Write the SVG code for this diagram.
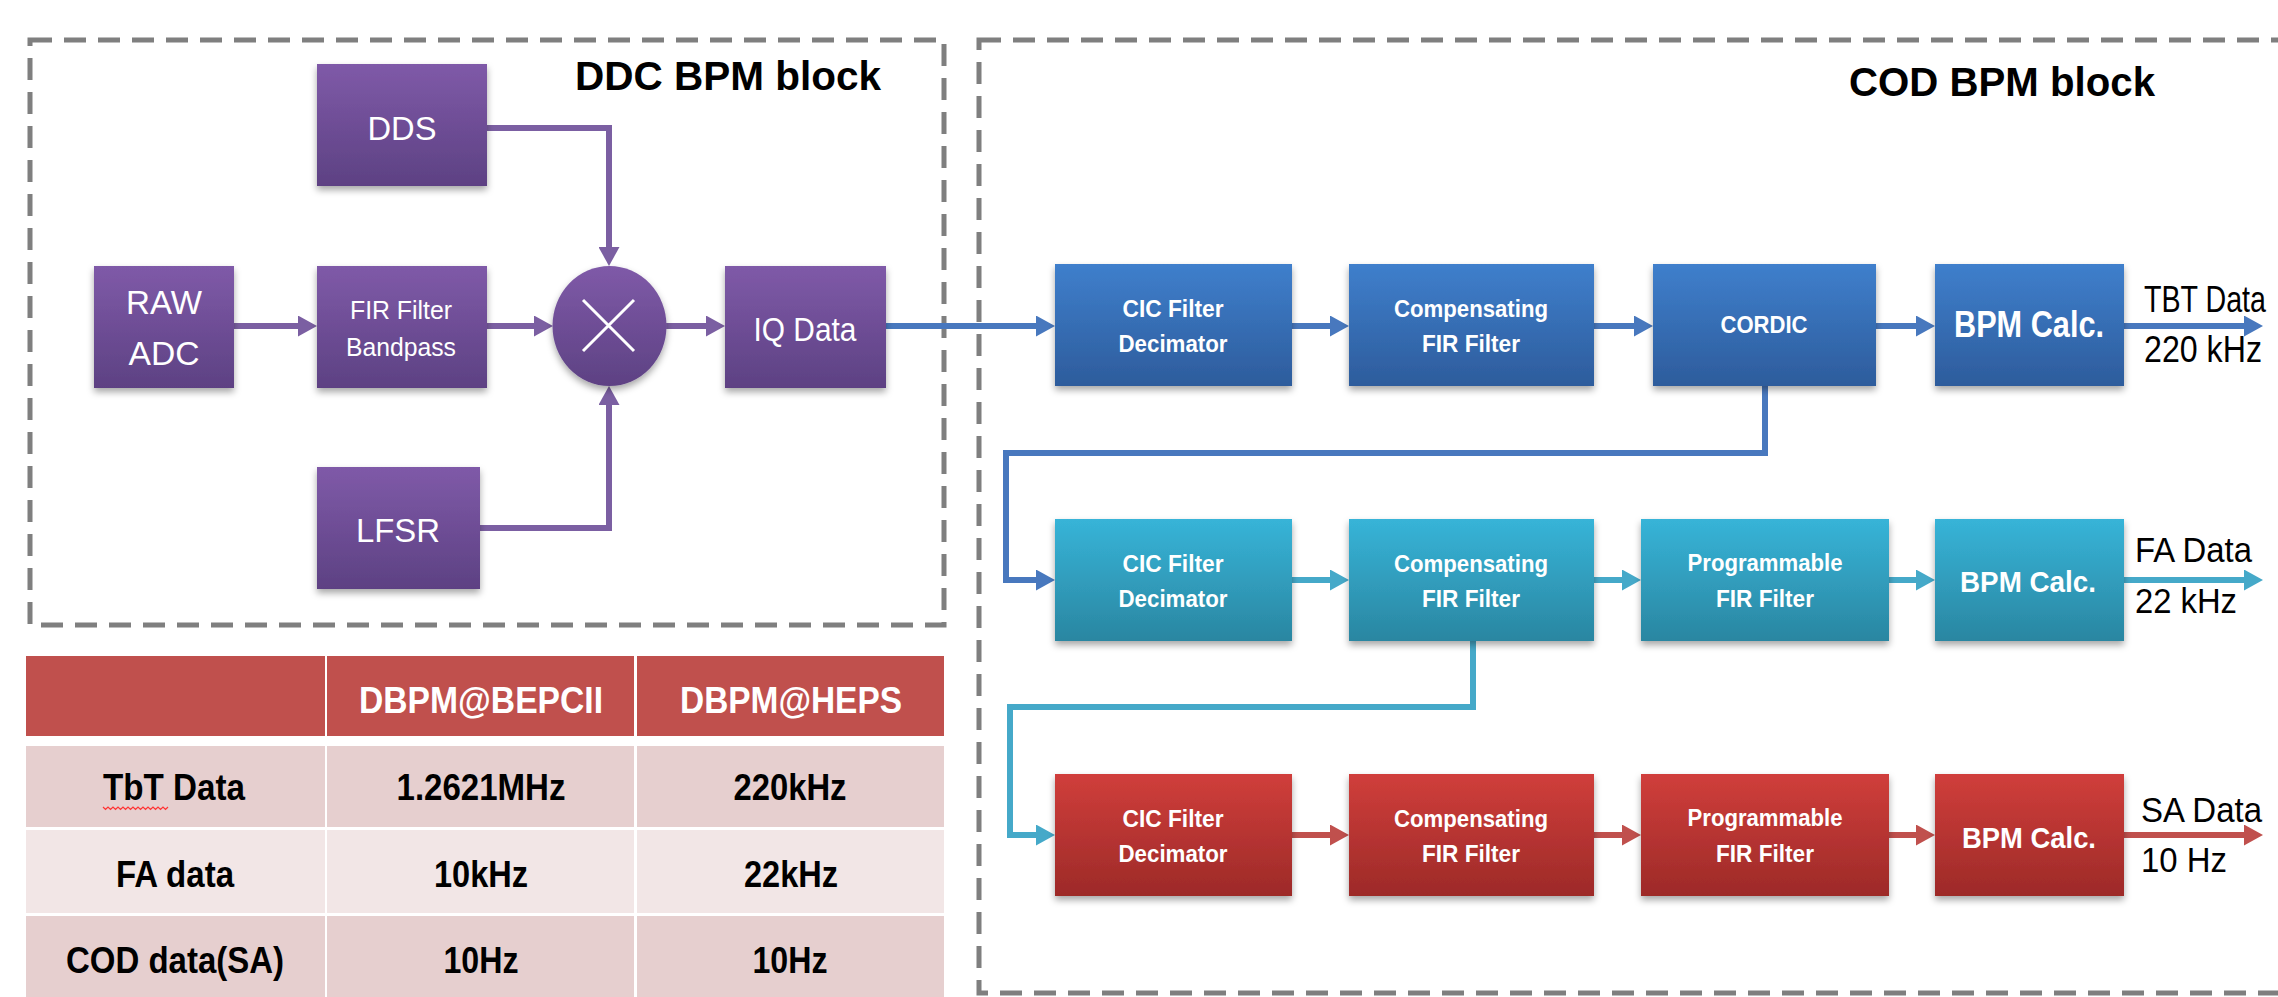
<svg xmlns="http://www.w3.org/2000/svg" width="2278" height="997" viewBox="0 0 2278 997">
<style>
.dash{fill:none;stroke:#7f7f7f;stroke-width:5;stroke-dasharray:22 12}
.t{font-family:"Liberation Sans",Arial,sans-serif;text-anchor:middle;fill:#fff}
.b{font-weight:bold}
.k{font-family:"Liberation Sans",Arial,sans-serif;fill:#000}
.kc{font-family:"Liberation Sans",Arial,sans-serif;fill:#000;text-anchor:middle;font-weight:bold;font-size:36px}
.hc{font-family:"Liberation Sans",Arial,sans-serif;fill:#fff;text-anchor:middle;font-weight:bold;font-size:36px}
.cp{fill:none;stroke:#7b5fa2;stroke-width:6}
.cb{fill:none;stroke:#4878be;stroke-width:6}
.cc{fill:none;stroke:#45a9c9;stroke-width:6}
.cr{fill:none;stroke:#c0504d;stroke-width:6}
.bx{filter:url(#sh)}
</style>
<defs>
<filter id="sh" x="-10%" y="-10%" width="120%" height="130%">
<feDropShadow dx="0" dy="4" stdDeviation="3.5" flood-color="#000" flood-opacity="0.35"/>
</filter>
<linearGradient id="gp" x1="0" y1="0" x2="0" y2="1"><stop offset="0" stop-color="#7f5aa8"/><stop offset="1" stop-color="#5d4183"/></linearGradient>
<linearGradient id="gb" x1="0" y1="0" x2="0" y2="1"><stop offset="0" stop-color="#3f7fcc"/><stop offset="1" stop-color="#2d5c9c"/></linearGradient>
<linearGradient id="gc" x1="0" y1="0" x2="0" y2="1"><stop offset="0" stop-color="#37b4d8"/><stop offset="1" stop-color="#2a86a1"/></linearGradient>
<linearGradient id="gr" x1="0" y1="0" x2="0" y2="1"><stop offset="0" stop-color="#d03e3b"/><stop offset="1" stop-color="#9d2a28"/></linearGradient>
<marker id="ap" markerUnits="userSpaceOnUse" markerWidth="19" markerHeight="21" refX="6" refY="10.5" orient="auto"><path d="M0,0 L19,10.5 L0,21 z" fill="#7b5fa2"/></marker>
<marker id="ab" markerUnits="userSpaceOnUse" markerWidth="19" markerHeight="21" refX="6" refY="10.5" orient="auto"><path d="M0,0 L19,10.5 L0,21 z" fill="#4878be"/></marker>
<marker id="ac" markerUnits="userSpaceOnUse" markerWidth="19" markerHeight="21" refX="6" refY="10.5" orient="auto"><path d="M0,0 L19,10.5 L0,21 z" fill="#45a9c9"/></marker>
<marker id="ar" markerUnits="userSpaceOnUse" markerWidth="19" markerHeight="21" refX="6" refY="10.5" orient="auto"><path d="M0,0 L19,10.5 L0,21 z" fill="#c0504d"/></marker>
</defs>
<rect width="2278" height="997" fill="#fff"/>

<g id="ddc-block">
<rect class="dash" x="30" y="40" width="914" height="585"/>
<text class="k b" x="575" y="90" font-size="40" textLength="306" lengthAdjust="spacingAndGlyphs">DDC BPM block</text>
</g>
<g id="cod-block">
<rect class="dash" x="979" y="40" width="1330" height="953"/>
<text class="k b" x="1849" y="96" font-size="40" textLength="306" lengthAdjust="spacingAndGlyphs">COD BPM block</text>
</g>

<g id="connectors">
<path class="cp" d="M487,128 H609 V253" marker-end="url(#ap)"/>
<path class="cp" d="M480,528 H609 V399" marker-end="url(#ap)"/>
<path class="cp" d="M234,326 H304" marker-end="url(#ap)"/>
<path class="cp" d="M487,326 H540" marker-end="url(#ap)"/>
<path class="cp" d="M666,326 H712" marker-end="url(#ap)"/>
<path class="cb" d="M886,326 H1042" marker-end="url(#ab)"/>
<path class="cb" d="M1292,326 H1336" marker-end="url(#ab)"/>
<path class="cb" d="M1594,326 H1640" marker-end="url(#ab)"/>
<path class="cb" d="M1876,326 H1922" marker-end="url(#ab)"/>
<path class="cb" d="M2124,326 H2250" marker-end="url(#ab)"/>
<path class="cb" d="M1765,386 V453 H1006 V580 H1042" marker-end="url(#ab)"/>
<path class="cc" d="M1292,580 H1336" marker-end="url(#ac)"/>
<path class="cc" d="M1594,580 H1628" marker-end="url(#ac)"/>
<path class="cc" d="M1889,580 H1922" marker-end="url(#ac)"/>
<path class="cc" d="M2124,580 H2250" marker-end="url(#ac)"/>
<path class="cc" d="M1473,641 V707 H1010 V835 H1042" marker-end="url(#ac)"/>
<path class="cr" d="M1292,835 H1336" marker-end="url(#ar)"/>
<path class="cr" d="M1594,835 H1628" marker-end="url(#ar)"/>
<path class="cr" d="M1889,835 H1922" marker-end="url(#ar)"/>
<path class="cr" d="M2124,835 H2250" marker-end="url(#ar)"/>
</g>

<g id="dds"><rect class="bx" x="317" y="64" width="170" height="122" fill="url(#gp)"/>
<text class="t" x="402" y="140" font-size="34" textLength="69" lengthAdjust="spacingAndGlyphs">DDS</text></g>
<g id="raw-adc"><rect class="bx" x="94" y="266" width="140" height="122" fill="url(#gp)"/>
<text class="t" x="164" y="314" font-size="34" textLength="76" lengthAdjust="spacingAndGlyphs">RAW</text>
<text class="t" x="164" y="365" font-size="34" textLength="71" lengthAdjust="spacingAndGlyphs">ADC</text></g>
<g id="fir-bandpass"><rect class="bx" x="317" y="266" width="170" height="122" fill="url(#gp)"/>
<text class="t" x="401" y="319" font-size="26" textLength="102" lengthAdjust="spacingAndGlyphs">FIR Filter</text>
<text class="t" x="401" y="356" font-size="26" textLength="110" lengthAdjust="spacingAndGlyphs">Bandpass</text></g>
<g id="mixer"><ellipse class="bx" cx="609.5" cy="326" rx="57" ry="60" fill="url(#gp)"/>
<path d="M583,300 L634,351 M634,300 L583,351" stroke="#fff" stroke-width="3" fill="none"/></g>
<g id="iq-data"><rect class="bx" x="725" y="266" width="161" height="122" fill="url(#gp)"/>
<text class="t" x="805" y="341" font-size="34" textLength="103" lengthAdjust="spacingAndGlyphs">IQ Data</text></g>
<g id="lfsr"><rect class="bx" x="317" y="467" width="163" height="122" fill="url(#gp)"/>
<text class="t" x="398" y="542" font-size="34" textLength="84" lengthAdjust="spacingAndGlyphs">LFSR</text></g>

<g id="cic1"><rect class="bx" x="1055" y="264" width="237" height="122" fill="url(#gb)"/>
<text class="t b" x="1173" y="317" font-size="24" textLength="101" lengthAdjust="spacingAndGlyphs">CIC Filter</text>
<text class="t b" x="1173" y="352" font-size="24" textLength="109" lengthAdjust="spacingAndGlyphs">Decimator</text></g>
<g id="comp1"><rect class="bx" x="1349" y="264" width="245" height="122" fill="url(#gb)"/>
<text class="t b" x="1471" y="317" font-size="24" textLength="154" lengthAdjust="spacingAndGlyphs">Compensating</text>
<text class="t b" x="1471" y="352" font-size="24" textLength="98" lengthAdjust="spacingAndGlyphs">FIR Filter</text></g>
<g id="cordic"><rect class="bx" x="1653" y="264" width="223" height="122" fill="url(#gb)"/>
<text class="t b" x="1764" y="333" font-size="24" textLength="87" lengthAdjust="spacingAndGlyphs">CORDIC</text></g>
<g id="bpm1"><rect class="bx" x="1935" y="264" width="189" height="122" fill="url(#gb)"/>
<text class="t b" x="2029" y="337" font-size="37" textLength="150" lengthAdjust="spacingAndGlyphs">BPM Calc.</text></g>
<g id="tbt-label">
<text class="k" x="2144" y="312" font-size="36" textLength="122" lengthAdjust="spacingAndGlyphs">TBT Data</text>
<text class="k" x="2144" y="362" font-size="37" textLength="118" lengthAdjust="spacingAndGlyphs">220 kHz</text></g>

<g id="cic2"><rect class="bx" x="1055" y="519" width="237" height="122" fill="url(#gc)"/>
<text class="t b" x="1173" y="572" font-size="24" textLength="101" lengthAdjust="spacingAndGlyphs">CIC Filter</text>
<text class="t b" x="1173" y="607" font-size="24" textLength="109" lengthAdjust="spacingAndGlyphs">Decimator</text></g>
<g id="comp2"><rect class="bx" x="1349" y="519" width="245" height="122" fill="url(#gc)"/>
<text class="t b" x="1471" y="572" font-size="24" textLength="154" lengthAdjust="spacingAndGlyphs">Compensating</text>
<text class="t b" x="1471" y="607" font-size="24" textLength="98" lengthAdjust="spacingAndGlyphs">FIR Filter</text></g>
<g id="prog2"><rect class="bx" x="1641" y="519" width="248" height="122" fill="url(#gc)"/>
<text class="t b" x="1765" y="571" font-size="24" textLength="155" lengthAdjust="spacingAndGlyphs">Programmable</text>
<text class="t b" x="1765" y="607" font-size="24" textLength="98" lengthAdjust="spacingAndGlyphs">FIR Filter</text></g>
<g id="bpm2"><rect class="bx" x="1935" y="519" width="189" height="122" fill="url(#gc)"/>
<text class="t b" x="2028" y="592" font-size="30" textLength="136" lengthAdjust="spacingAndGlyphs">BPM Calc.</text></g>
<g id="fa-label">
<text class="k" x="2135" y="562" font-size="35" textLength="117" lengthAdjust="spacingAndGlyphs">FA Data</text>
<text class="k" x="2135" y="613" font-size="35" textLength="102" lengthAdjust="spacingAndGlyphs">22 kHz</text></g>

<g id="cic3"><rect class="bx" x="1055" y="774" width="237" height="122" fill="url(#gr)"/>
<text class="t b" x="1173" y="827" font-size="24" textLength="101" lengthAdjust="spacingAndGlyphs">CIC Filter</text>
<text class="t b" x="1173" y="862" font-size="24" textLength="109" lengthAdjust="spacingAndGlyphs">Decimator</text></g>
<g id="comp3"><rect class="bx" x="1349" y="774" width="245" height="122" fill="url(#gr)"/>
<text class="t b" x="1471" y="827" font-size="24" textLength="154" lengthAdjust="spacingAndGlyphs">Compensating</text>
<text class="t b" x="1471" y="862" font-size="24" textLength="98" lengthAdjust="spacingAndGlyphs">FIR Filter</text></g>
<g id="prog3"><rect class="bx" x="1641" y="774" width="248" height="122" fill="url(#gr)"/>
<text class="t b" x="1765" y="826" font-size="24" textLength="155" lengthAdjust="spacingAndGlyphs">Programmable</text>
<text class="t b" x="1765" y="862" font-size="24" textLength="98" lengthAdjust="spacingAndGlyphs">FIR Filter</text></g>
<g id="bpm3"><rect class="bx" x="1935" y="774" width="189" height="122" fill="url(#gr)"/>
<text class="t b" x="2029" y="848" font-size="30" textLength="134" lengthAdjust="spacingAndGlyphs">BPM Calc.</text></g>
<g id="sa-label">
<text class="k" x="2141" y="822" font-size="35" textLength="121" lengthAdjust="spacingAndGlyphs">SA Data</text>
<text class="k" x="2141" y="872" font-size="35" textLength="86" lengthAdjust="spacingAndGlyphs">10 Hz</text></g>

<g id="table">
<rect x="26" y="656" width="299" height="80" fill="#c0504d"/>
<rect x="327" y="656" width="307" height="80" fill="#c0504d"/>
<rect x="637" y="656" width="307" height="80" fill="#c0504d"/>
<rect x="26" y="746" width="299" height="81" fill="#e6cfcf"/>
<rect x="327" y="746" width="307" height="81" fill="#e6cfcf"/>
<rect x="637" y="746" width="307" height="81" fill="#e6cfcf"/>
<rect x="26" y="830" width="299" height="83" fill="#f2e6e6"/>
<rect x="327" y="830" width="307" height="83" fill="#f2e6e6"/>
<rect x="637" y="830" width="307" height="83" fill="#f2e6e6"/>
<rect x="26" y="916" width="299" height="81" fill="#e6cfcf"/>
<rect x="327" y="916" width="307" height="81" fill="#e6cfcf"/>
<rect x="637" y="916" width="307" height="81" fill="#e6cfcf"/>
<text class="hc" x="481" y="713" textLength="244" lengthAdjust="spacingAndGlyphs">DBPM@BEPCII</text>
<text class="hc" x="791" y="713" textLength="222" lengthAdjust="spacingAndGlyphs">DBPM@HEPS</text>
<text class="kc" x="174" y="800" textLength="142" lengthAdjust="spacingAndGlyphs">TbT Data</text>
<path d="M103,807 l2.5,2.5 l2.5,-2.5 l2.5,2.5 l2.5,-2.5 l2.5,2.5 l2.5,-2.5 l2.5,2.5 l2.5,-2.5 l2.5,2.5 l2.5,-2.5 l2.5,2.5 l2.5,-2.5 l2.5,2.5 l2.5,-2.5 l2.5,2.5 l2.5,-2.5 l2.5,2.5 l2.5,-2.5 l2.5,2.5 l2.5,-2.5 l2.5,2.5 l2.5,-2.5 l2.5,2.5 l2.5,-2.5 l2.5,2.5 l2.5,-2.5" fill="none" stroke="#ff3333" stroke-width="1.2"/>
<text class="kc" x="481" y="800" textLength="169" lengthAdjust="spacingAndGlyphs">1.2621MHz</text>
<text class="kc" x="790" y="800" textLength="113" lengthAdjust="spacingAndGlyphs">220kHz</text>
<text class="kc" x="175" y="887" textLength="118" lengthAdjust="spacingAndGlyphs">FA data</text>
<text class="kc" x="481" y="887" textLength="94" lengthAdjust="spacingAndGlyphs">10kHz</text>
<text class="kc" x="791" y="887" textLength="94" lengthAdjust="spacingAndGlyphs">22kHz</text>
<text class="kc" x="175" y="973" textLength="218" lengthAdjust="spacingAndGlyphs">COD data(SA)</text>
<text class="kc" x="481" y="973" textLength="75" lengthAdjust="spacingAndGlyphs">10Hz</text>
<text class="kc" x="790" y="973" textLength="75" lengthAdjust="spacingAndGlyphs">10Hz</text>
</g>
</svg>
